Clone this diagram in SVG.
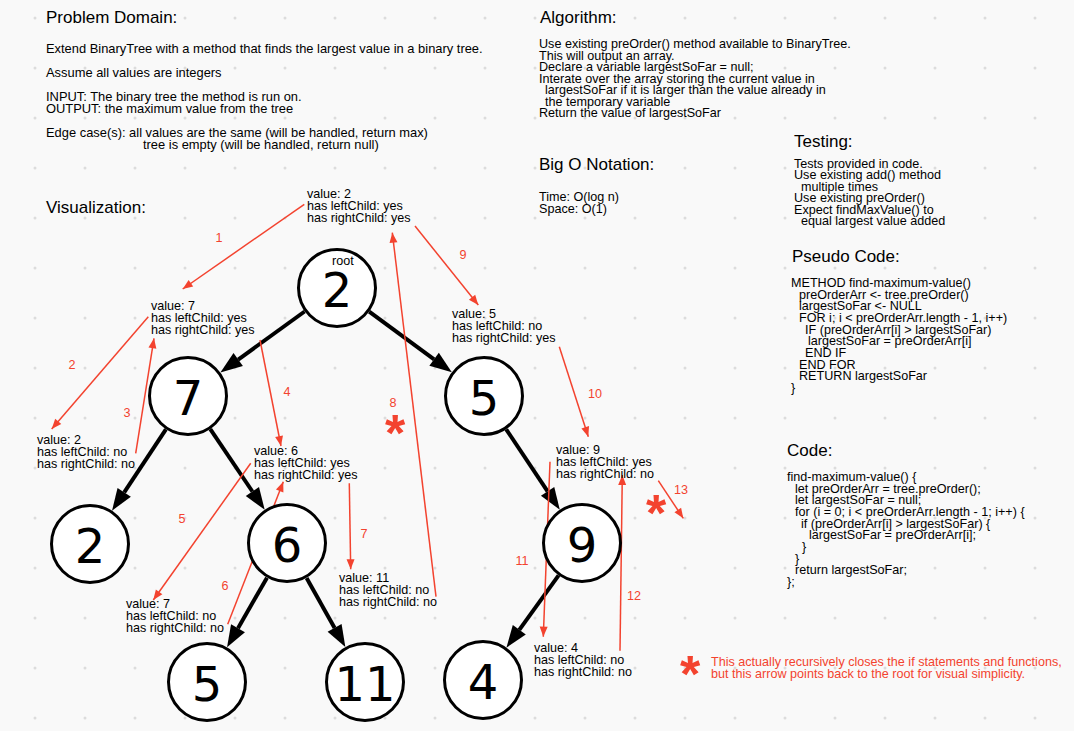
<svg xmlns="http://www.w3.org/2000/svg" width="1074" height="731" viewBox="0 0 1074 731">
<style>
.t{font-family:"Liberation Sans",Arial,sans-serif;font-size:12.6px;fill:#000}
.p{font-size:12.9px}
.h{font-family:"Liberation Sans",Arial,sans-serif;font-size:17px;fill:#000}
.r{font-family:"Liberation Sans",Arial,sans-serif;font-size:12.6px;fill:#f3432f}
.ast{font-family:"Liberation Sans",Arial,sans-serif;font-size:52px;font-weight:bold;fill:#f3432f;text-anchor:middle}
.num{font-family:"DejaVu Sans",sans-serif;font-size:48px;fill:#000;text-anchor:middle}
.c{fill:#fff;stroke:#000;stroke-width:3}
.e{stroke:#000;stroke-width:4;fill:none;marker-end:url(#ta)}
.ra{stroke:#f3432f;stroke-width:1.5;fill:none;marker-end:url(#ra)}
</style>
<defs>
<pattern id="dots" patternUnits="userSpaceOnUse" width="50" height="50">
<circle cx="35" cy="18" r="1.5" fill="#dcdcdc"/>
</pattern>
<marker id="ta" markerUnits="userSpaceOnUse" markerWidth="22" markerHeight="16" refX="0" refY="8" orient="auto" overflow="visible">
<path d="M0,0 L22,8 L0,16 z" fill="#000"/>
</marker>
<marker id="ra" markerUnits="userSpaceOnUse" markerWidth="10" markerHeight="8" refX="10" refY="4" orient="auto" overflow="visible">
<path d="M0,0 L10,4 L0,8 z" fill="#f3432f"/>
</marker>
</defs>
<rect width="1074" height="731" fill="#f9f9f9"/>
<rect width="1074" height="731" fill="url(#dots)"/>

<g id="problem-domain">
<text class="h" x="46" y="23">Problem Domain:</text>
<text class="t p" x="46" y="53">Extend BinaryTree with a method that finds the largest value in a binary tree.</text>
<text class="t p" x="46" y="77">Assume all values are integers</text>
<text class="t p" x="46" y="101">INPUT: The binary tree the method is run on.</text>
<text class="t p" x="46" y="113">OUTPUT: the maximum value from the tree</text>
<text class="t p" x="46" y="137">Edge case(s): all values are the same (will be handled, return max)</text>
<text class="t p" x="143" y="149">tree is empty (will be handled, return null)</text>
</g>

<g id="algorithm">
<text class="h" x="540" y="23">Algorithm:</text>
<text class="t" x="539" y="48">Use existing preOrder() method available to BinaryTree.</text>
<text class="t" x="539" y="59.5">This will output an array.</text>
<text class="t" x="539" y="71">Declare a variable largestSoFar = null;</text>
<text class="t" x="539" y="82.5">Interate over the array storing the current value in</text>
<text class="t" x="545" y="94">largestSoFar if it is larger than the value already in</text>
<text class="t" x="545" y="105.5">the temporary variable</text>
<text class="t" x="539" y="117">Return the value of largestSoFar</text>
</g>

<g id="testing">
<text class="h" x="794" y="147">Testing:</text>
<text class="t" x="794" y="168">Tests provided in code.</text>
<text class="t" x="794" y="179.4">Use existing add() method</text>
<text class="t" x="801" y="190.8">multiple times</text>
<text class="t" x="794" y="202.2">Use existing preOrder()</text>
<text class="t" x="794" y="213.6">Expect findMaxValue() to</text>
<text class="t" x="801" y="225">equal largest value added</text>
</g>

<g id="big-o">
<text class="h" x="539" y="170">Big O Notation:</text>
<text class="t" x="539" y="201">Time: O(log n)</text>
<text class="t" x="539" y="212.5">Space: O(1)</text>
</g>

<g id="pseudo-code">
<text class="h" x="792" y="262">Pseudo Code:</text>
<text class="t" x="791" y="287">METHOD find-maximum-value()</text>
<text class="t" x="799" y="298.7">preOrderArr &lt;- tree.preOrder()</text>
<text class="t" x="799" y="310.3">largestSoFar &lt;- NULL</text>
<text class="t" x="799" y="322">FOR i; i &lt; preOrderArr.length - 1, i++)</text>
<text class="t" x="805" y="333.7">IF (preOrderArr[i] &gt; largestSoFar)</text>
<text class="t" x="808" y="345.3">largestSoFar = preOrderArr[i]</text>
<text class="t" x="805" y="357">END IF</text>
<text class="t" x="799" y="368.7">END FOR</text>
<text class="t" x="799" y="380.3">RETURN largestSoFar</text>
<text class="t" x="791" y="392">}</text>
</g>

<g id="code">
<text class="h" x="787" y="456">Code:</text>
<text class="t" x="787" y="481">find-maximum-value() {</text>
<text class="t" x="795" y="492.7">let preOrderArr = tree.preOrder();</text>
<text class="t" x="795" y="504.3">let largestSoFar = null;</text>
<text class="t" x="795" y="516">for (i = 0; i &lt; preOrderArr.length - 1; i++) {</text>
<text class="t" x="801" y="527.7">if (preOrderArr[i] &gt; largestSoFar) {</text>
<text class="t" x="809" y="539.3">largestSoFar = preOrderArr[i];</text>
<text class="t" x="802" y="551">}</text>
<text class="t" x="795" y="562.7">}</text>
<text class="t" x="795" y="574.3">return largestSoFar;</text>
<text class="t" x="787" y="586">};</text>
</g>

<g id="visualization-title">
<text class="h" x="46" y="213">Visualization:</text>
</g>

<g id="connectors">
<line class="e" x1="304.6" y1="311.5" x2="238.2" y2="359.6"/>
<line class="e" x1="369.2" y1="311.7" x2="434.1" y2="359.3"/>
<line class="e" x1="165.9" y1="429.4" x2="124.2" y2="492.3"/>
<line class="e" x1="210.3" y1="429.2" x2="252.4" y2="491.5"/>
<line class="e" x1="506.2" y1="429.3" x2="547.6" y2="491.4"/>
<line class="e" x1="267.0" y1="577.7" x2="238.0" y2="628.2"/>
<line class="e" x1="306.6" y1="577.9" x2="334.6" y2="627.9"/>
<line class="e" x1="558.6" y1="575.4" x2="519.3" y2="629.8"/>

<line class="ra" x1="304.3" y1="204.3" x2="182.7" y2="289"/>
<line class="ra" x1="148.3" y1="316.7" x2="51.7" y2="429"/>
<line class="ra" x1="135.7" y1="453.3" x2="154" y2="338.3"/>
<line class="ra" x1="260" y1="340" x2="281" y2="446"/>
<line class="ra" x1="250.7" y1="463.3" x2="153.3" y2="600"/>
<line class="ra" x1="227.7" y1="624.3" x2="283.3" y2="481.7"/>
<line class="ra" x1="349.3" y1="483.3" x2="350.7" y2="569.3"/>
<line class="ra" x1="436" y1="596.7" x2="392.3" y2="232.7"/>
<line class="ra" x1="415" y1="226" x2="478.3" y2="305"/>
<line class="ra" x1="559.3" y1="346.7" x2="588.3" y2="436.7"/>
<line class="ra" x1="550" y1="461.7" x2="543.3" y2="636.7"/>
<line class="ra" x1="620" y1="650.7" x2="622.3" y2="475"/>
<line class="ra" x1="658.3" y1="480.7" x2="683.3" y2="518.3"/>

<text class="r" x="219" y="242" text-anchor="middle">1</text>
<text class="r" x="72" y="369" text-anchor="middle">2</text>
<text class="r" x="127" y="417" text-anchor="middle">3</text>
<text class="r" x="287" y="396" text-anchor="middle">4</text>
<text class="r" x="182" y="523" text-anchor="middle">5</text>
<text class="r" x="225" y="590" text-anchor="middle">6</text>
<text class="r" x="364" y="538" text-anchor="middle">7</text>
<text class="r" x="393" y="407" text-anchor="middle">8</text>
<text class="r" x="463" y="259" text-anchor="middle">9</text>
<text class="r" x="595" y="398" text-anchor="middle">10</text>
<text class="r" x="522" y="565" text-anchor="middle">11</text>
<text class="r" x="634" y="600" text-anchor="middle">12</text>
<text class="r" x="681" y="494" text-anchor="middle">13</text>
<text class="ast" x="395" y="451">*</text>
<text class="ast" x="656" y="531">*</text>
</g>

<g id="node-root">
<circle class="c" cx="337" cy="288" r="38.5"/>
<text class="num" x="337" y="307">2</text>
<text class="t" x="332" y="265">root</text>
</g>
<g id="node-7">
<circle class="c" cx="188" cy="396" r="38.5"/>
<text class="num" x="188" y="415">7</text>
</g>
<g id="node-5a">
<circle class="c" cx="484" cy="396" r="38.5"/>
<text class="num" x="484" y="415">5</text>
</g>
<g id="node-2">
<circle class="c" cx="90" cy="544" r="38.5"/>
<text class="num" x="90" y="563">2</text>
</g>
<g id="node-6">
<circle class="c" cx="287" cy="543" r="38.5"/>
<text class="num" x="287" y="562">6</text>
</g>
<g id="node-9">
<circle class="c" cx="582" cy="543" r="38.5"/>
<text class="num" x="582" y="562">9</text>
</g>
<g id="node-5b">
<circle class="c" cx="207" cy="682" r="38.5"/>
<text class="num" x="207" y="701">5</text>
</g>
<g id="node-11">
<circle class="c" cx="365" cy="682" r="38.5"/>
<text class="num" x="365" y="701">11</text>
</g>
<g id="node-4">
<circle class="c" cx="483" cy="680" r="38.5"/>
<text class="num" x="483" y="699">4</text>
</g>

<g id="info-root">
<text class="t" x="307" y="198">value: 2</text>
<text class="t" x="307" y="210">has leftChild: yes</text>
<text class="t" x="307" y="222">has rightChild: yes</text>
</g>
<g id="info-7">
<text class="t" x="151" y="310">value: 7</text>
<text class="t" x="151" y="322">has leftChild: yes</text>
<text class="t" x="151" y="334">has rightChild: yes</text>
</g>
<g id="info-2">
<text class="t" x="37" y="444">value: 2</text>
<text class="t" x="37" y="456">has leftChild: no</text>
<text class="t" x="37" y="468">has rightChild: no</text>
</g>
<g id="info-6">
<text class="t" x="254" y="455">value: 6</text>
<text class="t" x="254" y="467">has leftChild: yes</text>
<text class="t" x="254" y="479">has rightChild: yes</text>
</g>
<g id="info-7b">
<text class="t" x="126" y="608">value: 7</text>
<text class="t" x="126" y="620">has leftChild: no</text>
<text class="t" x="126" y="632">has rightChild: no</text>
</g>
<g id="info-11">
<text class="t" x="339" y="582">value: 11</text>
<text class="t" x="339" y="594">has leftChild: no</text>
<text class="t" x="339" y="606">has rightChild: no</text>
</g>
<g id="info-5">
<text class="t" x="452" y="318">value: 5</text>
<text class="t" x="452" y="330">has leftChild: no</text>
<text class="t" x="452" y="342">has rightChild: yes</text>
</g>
<g id="info-9">
<text class="t" x="556" y="454">value: 9</text>
<text class="t" x="556" y="466">has leftChild: yes</text>
<text class="t" x="556" y="478">has rightChild: no</text>
</g>
<g id="info-4">
<text class="t" x="534" y="652">value: 4</text>
<text class="t" x="534" y="664">has leftChild: no</text>
<text class="t" x="534" y="676">has rightChild: no</text>
</g>

<g id="footnote">
<text class="ast" x="690" y="692">*</text>
<text class="r" x="711" y="666">This actually recursively closes the if statements and functions,</text>
<text class="r" x="711" y="677.5">but this arrow points back to the root for visual simplicity.</text>
</g>
</svg>
